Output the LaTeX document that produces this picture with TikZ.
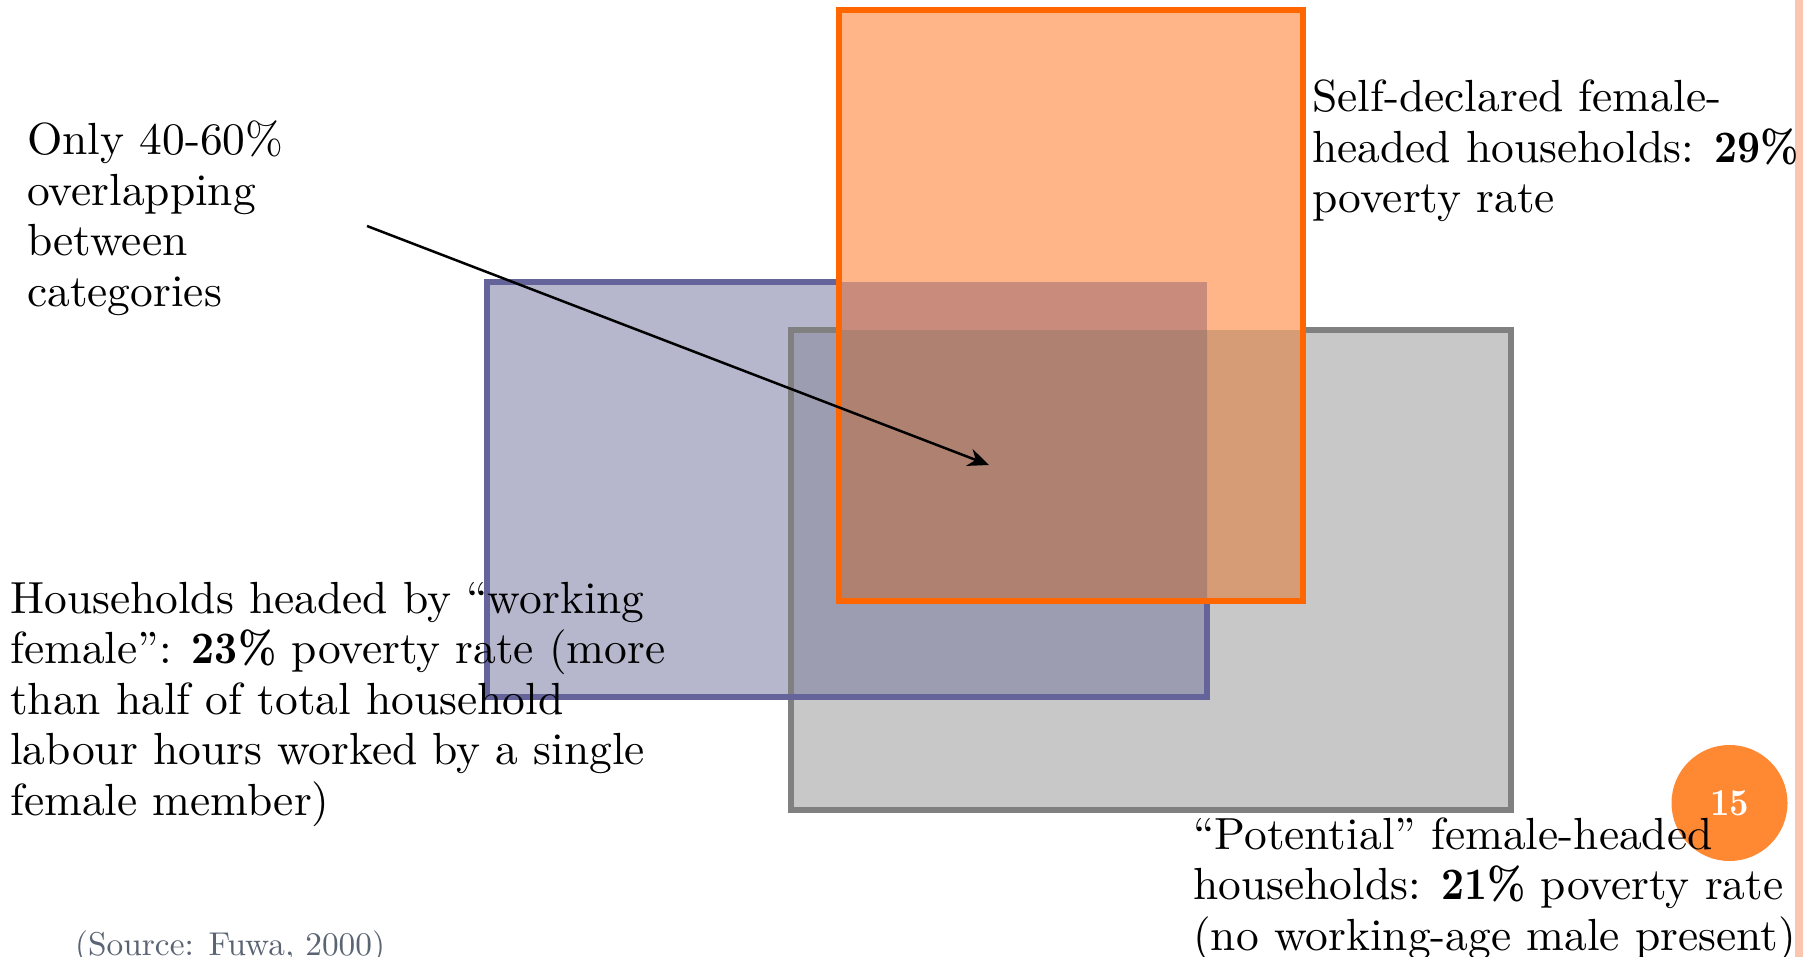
\documentclass[tikz,border=0pt]{standalone}
\usepackage{fontspec}
\setmainfont{lmroman10-regular}[Extension=.otf, BoldFont=lmroman10-bold, FakeStretch=1.01, BoldFeatures={FakeStretch=0.89}]
\usetikzlibrary{arrows.meta}
\definecolor{orbd}{RGB}{255,102,0}
\definecolor{orfill}{RGB}{255,181,135}
\definecolor{grfill}{RGB}{200,200,200}
\definecolor{grbd}{RGB}{128,128,128}
\definecolor{blfill}{RGB}{182,183,205}
\definecolor{blbd}{RGB}{100,100,155}
\definecolor{blgr}{RGB}{157,157,177}
\definecolor{orgr}{RGB}{214,156,117}
\definecolor{orbl}{RGB}{201,139,123}
\definecolor{orblgr}{RGB}{175,129,112}
\definecolor{pinkbar}{RGB}{252,197,176}
\definecolor{badgecol}{RGB}{255,136,51}
\definecolor{srcgray}{RGB}{90,100,115}
\newcommand{\mlines}[1]{\vtop{\baselineskip=50.5pt\lineskiplimit=-200pt\lineskip=0pt #1}}
\tikzset{
  bigtext/.style={inner sep=0pt, anchor=base west, font=\fontsize{45}{50.5}\selectfont},
  rectborder/.style={line width=6pt},
}
\begin{document}
\begin{tikzpicture}[x=1pt,y=-1pt]
\useasboundingbox (0,0) rectangle (1810,957);
\fill[white] (0,0) rectangle (1810,957);
% fills of gray and blue
\fill[grfill] (791,330) rectangle (1511,810);
\fill[blfill] (487,282) rectangle (1207,697);
\begin{scope}
  \clip (487,282) rectangle (1207,697);
  \fill[blgr] (791,330) rectangle (1511,810);
\end{scope}
\draw[grbd, rectborder] (791,330) rectangle (1511,810);
\draw[blbd, rectborder] (487,282) rectangle (1207,697);
% orange
\fill[orfill] (839,10) rectangle (1303,601);
\begin{scope}
  \clip (839,10) rectangle (1303,601);
  \fill[orgr] (791,330) rectangle (1511,810);
  \fill[orbl] (487,282) rectangle (1207,697);
  \clip (487,282) rectangle (1207,697);
  \fill[orblgr] (791,330) rectangle (1511,810);
\end{scope}
\draw[orbd, rectborder] (839,10) rectangle (1303,601);
% right bar
\fill[pinkbar] (1795,0) rectangle (1803,957);
% badge
\node[circle, fill=badgecol, minimum size=116pt, inner sep=0pt] (badge) at (1729.5,803) {};
% arrow
\coordinate (arrowstart) at (367,226);
\coordinate (arrowtip) at (989,465);
\draw[line width=2.5pt, -{Stealth[length=21pt,width=18pt]}] (arrowstart) -- (arrowtip);
% texts
\node[bigtext] (overlap) at (27,155) {\mlines{\hbox{Only 40-60\%}\hbox{overlapping}\hbox{between}\hbox{categories}}};
\node[bigtext] (selfdecl) at (1312,112) {\mlines{\hbox{Self-declared female-}\hbox{headed households: \textbf{29\%}}\hbox{poverty rate}}};
\node[bigtext] (working) at (10,613) {\mlines{\hbox{Households headed by “working}\hbox{female”: \textbf{23\%} poverty rate (more}\hbox{than half of total household}\hbox{labour hours worked by a single}\hbox{female member)}}};
\node[bigtext] (potential) at (1193,849) {\mlines{\hbox{“Potential” female-headed}\hbox{households: \textbf{21\%} poverty rate}\hbox{(no working-age male present)}}};
\node[text=white, font=\fontsize{38}{42}\selectfont\bfseries, inner sep=0pt] (num) at (badge.center) {15};
\node[inner sep=0pt, anchor=base west, text=srcgray, font=\fontsize{33}{38}\selectfont] (source) at (75,955) {(Source: Fuwa, 2000)};
\end{tikzpicture}
\end{document}
